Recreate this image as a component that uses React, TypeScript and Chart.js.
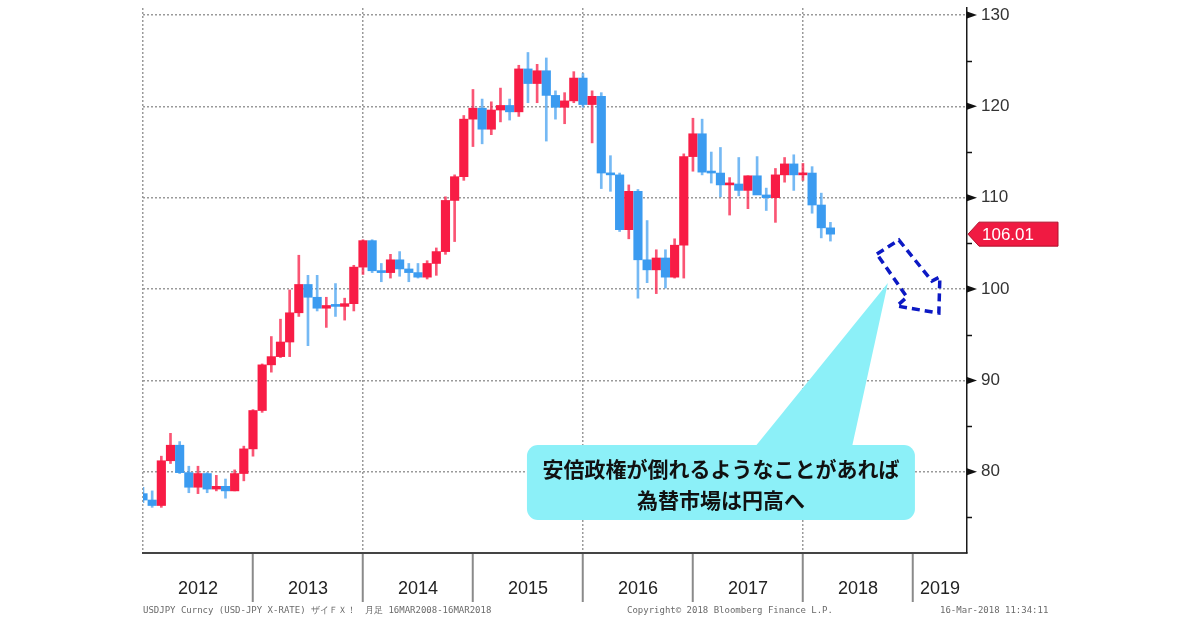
import React, { useEffect, useRef } from 'react';
import { Chart, registerables } from 'chart.js';

Chart.register(...registerables);

// ---- data (monthly USDJPY candles, month-end) ----
const monthLabels = [
  '2011-12',
  '2012-01', '2012-02', '2012-03', '2012-04', '2012-05', '2012-06', '2012-07', '2012-08', '2012-09', '2012-10', '2012-11', '2012-12',
  '2013-01', '2013-02', '2013-03', '2013-04', '2013-05', '2013-06', '2013-07', '2013-08', '2013-09', '2013-10', '2013-11', '2013-12',
  '2014-01', '2014-02', '2014-03', '2014-04', '2014-05', '2014-06', '2014-07', '2014-08', '2014-09', '2014-10', '2014-11', '2014-12',
  '2015-01', '2015-02', '2015-03', '2015-04', '2015-05', '2015-06', '2015-07', '2015-08', '2015-09', '2015-10', '2015-11', '2015-12',
  '2016-01', '2016-02', '2016-03', '2016-04', '2016-05', '2016-06', '2016-07', '2016-08', '2016-09', '2016-10', '2016-11', '2016-12',
  '2017-01', '2017-02', '2017-03', '2017-04', '2017-05', '2017-06', '2017-07', '2017-08', '2017-09', '2017-10', '2017-11', '2017-12',
  '2018-01', '2018-02', '2018-03',
];
const openV = [
  77.6,
  76.9, 76.3, 81.2, 82.9, 79.9, 78.3, 79.8, 78.1, 78.4, 77.9, 79.8, 82.5,
  86.7, 91.7, 92.6, 94.2, 97.4, 100.5, 99.1, 97.9, 98.2, 98.1, 98.4, 102.4,
  105.3, 102.0, 101.8, 103.2, 102.2, 101.8, 101.3, 102.8, 104.1, 109.7, 112.3, 118.6,
  119.8, 117.5, 119.6, 120.1, 119.4, 124.1, 122.5, 123.9, 121.2, 119.9, 120.6, 123.1,
  120.2, 121.1, 112.7, 112.5, 106.5, 110.7, 103.2, 102.1, 103.4, 101.3, 104.8, 114.5,
  117.0, 112.8, 112.7, 111.4, 111.5, 110.8, 112.4, 110.3, 110.0, 112.5, 113.7, 112.5,
  112.7, 109.2, 106.7,
];
const highV = [
  78.3,
  77.9, 81.7, 84.2, 83.3, 80.6, 80.6, 79.9, 79.6, 79.2, 80.2, 82.8, 86.8,
  91.8, 94.8, 96.7, 99.9, 103.7, 101.5, 101.5, 99.1, 100.6, 99.0, 102.6, 105.4,
  105.4, 102.8, 103.8, 104.1, 102.8, 102.8, 103.1, 104.5, 110.1, 112.5, 119.0, 121.85,
  120.8, 120.5, 122.0, 120.8, 124.5, 125.9, 124.6, 125.3, 121.7, 121.5, 123.8, 123.6,
  121.7, 121.5, 114.6, 112.7, 111.4, 110.9, 107.5, 104.3, 104.3, 105.5, 114.8, 118.7,
  118.6, 115.0, 115.5, 112.2, 114.4, 112.4, 114.5, 111.05, 113.2, 114.4, 114.7, 113.75,
  113.4, 110.5, 107.3,
];
const lowV = [
  76.6,
  76.1, 76.1, 80.9, 79.8, 77.7, 77.6, 77.7, 77.9, 77.1, 77.9, 79.0, 81.7,
  86.5, 90.9, 92.5, 92.6, 97.0, 93.8, 97.6, 95.8, 97.0, 96.6, 97.6, 101.6,
  101.8, 100.8, 101.2, 101.4, 100.8, 101.2, 101.1, 101.5, 103.8, 105.2, 111.9, 115.6,
  115.9, 116.9, 118.3, 118.5, 118.9, 120.4, 120.4, 116.2, 118.6, 118.1, 120.4, 119.9,
  116.0, 111.0, 110.7, 106.3, 105.5, 99.0, 100.7, 99.5, 100.1, 101.2, 101.2, 112.9,
  112.5, 111.6, 110.1, 108.1, 110.2, 108.8, 110.6, 108.6, 107.3, 111.7, 110.8, 111.9,
  108.3, 105.6, 105.25,
];
const closeV = [
  76.9,
  76.3, 81.2, 82.9, 79.9, 78.3, 79.8, 78.1, 78.4, 77.9, 79.8, 82.5, 86.7,
  91.7, 92.6, 94.2, 97.4, 100.5, 99.1, 97.9, 98.2, 98.1, 98.4, 102.4, 105.3,
  102.0, 101.8, 103.2, 102.2, 101.8, 101.3, 102.8, 104.1, 109.7, 112.3, 118.6, 119.8,
  117.5, 119.6, 120.1, 119.4, 124.1, 122.5, 123.9, 121.2, 119.9, 120.6, 123.1, 120.2,
  121.1, 112.7, 112.5, 106.5, 110.7, 103.2, 102.1, 103.4, 101.3, 104.8, 114.5, 117.0,
  112.8, 112.7, 111.4, 111.5, 110.8, 112.4, 110.3, 110.0, 112.5, 113.7, 112.5, 112.7,
  109.2, 106.7, 106.01,
];

const yearLabels = ['2012', '2013', '2014', '2015', '2016', '2017', '2018', '2019'];
const yearBoundaries = [0, 12, 24, 36, 48, 60, 72, 84];
const yearCenters = [6, 18, 30, 42, 54, 66, 78, 86.95];
const xGridValues = [0, 24, 48, 72];
const yTickValues = [80, 90, 100, 110, 120, 130];
const yMinorValues = [75, 85, 95, 105, 115, 125];

const calloutLines = ['安倍政権が倒れるようなことがあれば', '為替市場は円高へ'];
const footerLeft = 'USDJPY Curncy (USD-JPY X-RATE) ザイＦＸ！　月足 16MAR2008-16MAR2018';
const footerMid = 'Copyright© 2018 Bloomberg Finance L.P.';
const footerRight = '16-Mar-2018 11:34:11';

// ---- annotation anchors (data coordinates) ----
const calloutXRange = [41.89, 84.22];
const calloutYRange = [82.92, 74.71];
const pointerBaseX = [66.76, 77.35];
const pointerTip = [81.27, 100.66];
const arrowPath = [
  [80.07, 103.83], [82.47, 105.36], [86.07, 100.88], [86.94, 101.32],
  [86.83, 97.37], [82.25, 98.14], [83.35, 99.12],
];

// ---- styles ----
const UP = '#f81c45';
const DOWN = '#3b9bf0';
const UP_WICK = 'rgba(248,28,69,0.75)';
const DOWN_WICK = 'rgba(59,155,240,0.7)';
const GRID = '#9a9a9a';

const xs = monthLabels.map((m) => {
  const [yy, mm] = m.split('-').map(Number);
  return (yy - 2012) * 12 + mm;
});

const decorPlugin = {
  id: 'decor',
  afterDatasetsDraw(chart: any) {
    const { ctx } = chart;
    const x = chart.scales.x;
    const y = chart.scales.y;
    const px = (v: number) => x.getPixelForValue(v);
    const py = (v: number) => y.getPixelForValue(v);
    ctx.save();
    // callout
    const bx0 = px(calloutXRange[0]);
    const bx1 = px(calloutXRange[1]);
    const by0 = py(calloutYRange[0]);
    const by1 = py(calloutYRange[1]);
    ctx.fillStyle = '#8cf0f8';
    ctx.beginPath();
    ctx.roundRect(bx0, by0, bx1 - bx0, by1 - by0, 11);
    ctx.fill();
    ctx.beginPath();
    ctx.moveTo(px(pointerBaseX[0]), by0 + 2);
    ctx.lineTo(px(pointerTip[0]), py(pointerTip[1]));
    ctx.lineTo(px(pointerBaseX[1]), by0 + 2);
    ctx.closePath();
    ctx.fill();
    ctx.fillStyle = '#111';
    ctx.font = 'bold 21px "Noto Sans CJK JP"';
    ctx.textAlign = 'center';
    ctx.textBaseline = 'middle';
    const cx = (bx0 + bx1) / 2;
    ctx.fillText(calloutLines[0], cx, by0 + 24);
    ctx.fillText(calloutLines[1], cx, by0 + 55);
    // dashed arrow
    ctx.setLineDash([8, 5]);
    ctx.lineWidth = 3.5;
    ctx.strokeStyle = '#0c19c4';
    ctx.lineJoin = 'miter';
    ctx.beginPath();
    arrowPath.forEach((p, i) => {
      if (i === 0) ctx.moveTo(px(p[0]), py(p[1]));
      else ctx.lineTo(px(p[0]), py(p[1]));
    });
    ctx.closePath();
    ctx.stroke();
    ctx.restore();
  },
  afterDraw(chart: any) {
    const { ctx, chartArea } = chart;
    const y = chart.scales.y;
    const ax = chartArea.right;
    ctx.save();
    // major tick arrows
    ctx.fillStyle = '#111';
    yTickValues.forEach((v) => {
      const yy = y.getPixelForValue(v);
      ctx.beginPath();
      ctx.moveTo(ax, yy - 3.5);
      ctx.lineTo(ax + 10, yy);
      ctx.lineTo(ax, yy + 3.5);
      ctx.closePath();
      ctx.fill();
    });
    ctx.strokeStyle = '#111';
    ctx.lineWidth = 1.5;
    yMinorValues.forEach((v) => {
      const yy = Math.round(y.getPixelForValue(v)) + 0.5;
      ctx.beginPath();
      ctx.moveTo(ax, yy);
      ctx.lineTo(ax + 5, yy);
      ctx.stroke();
    });
    // last price tag
    const last = closeV[closeV.length - 1];
    const ty = y.getPixelForValue(last);
    ctx.beginPath();
    ctx.moveTo(ax + 1, ty);
    ctx.lineTo(ax + 12, ty - 12);
    ctx.lineTo(ax + 91, ty - 12);
    ctx.lineTo(ax + 91, ty + 12);
    ctx.lineTo(ax + 12, ty + 12);
    ctx.closePath();
    ctx.fillStyle = '#f01a42';
    ctx.fill();
    ctx.strokeStyle = '#b0102c';
    ctx.lineWidth = 1;
    ctx.stroke();
    ctx.fillStyle = '#fff';
    ctx.font = '17px "Liberation Sans"';
    ctx.textAlign = 'left';
    ctx.textBaseline = 'middle';
    ctx.fillText(last.toFixed(2), ax + 15, ty + 1);
    // footer
    ctx.fillStyle = '#6a6a6a';
    ctx.font = '9px "DejaVu Sans Mono"';
    ctx.textBaseline = 'middle';
    ctx.fillText(footerLeft, chartArea.left, 611, 405);
    ctx.fillText(footerMid, 627, 611, 218);
    ctx.fillText(footerRight, 940, 611, 114);
    ctx.restore();
  },
};

export default function App() {
  const ref = useRef<HTMLCanvasElement | null>(null);
  useEffect(() => {
    if (!ref.current) return;
    const bodyColors = openV.map((o, i) => (closeV[i] >= o ? UP : DOWN));
    const wickColors = openV.map((o, i) => (closeV[i] >= o ? UP_WICK : DOWN_WICK));
    const chart = new Chart(ref.current, {
      type: 'bar',
      data: {
        datasets: [
          {
            label: 'body',
            data: xs.map((x, i) => ({ x, y: [openV[i], closeV[i]] })) as any,
            backgroundColor: bodyColors,
            borderWidth: 0,
            barThickness: 8.5,
            minBarLength: 2,
            grouped: false,
            order: 0,
            clip: 0,
          } as any,
          {
            label: 'wick',
            data: xs.map((x, i) => ({ x, y: [lowV[i], highV[i]] })) as any,
            backgroundColor: wickColors,
            borderWidth: 0,
            barThickness: 2,
            grouped: false,
            order: 1,
            clip: 0,
          } as any,
        ],
      },
      options: {
        animation: false,
        responsive: false,
        maintainAspectRatio: false,
        layout: { padding: { left: 143, top: 8, right: 0, bottom: 0 } },
        plugins: { legend: { display: false }, tooltip: { enabled: false } },
        scales: {
          x: {
            type: 'linear',
            position: 'bottom',
            offset: false,
            min: 0,
            max: 89.9,
            afterBuildTicks: (s: any) => {
              s.ticks = [...yearBoundaries, ...yearCenters].sort((a, b) => a - b).map((v) => ({ value: v }));
            },
            afterFit: (s: any) => {
              s.height = 77;
              s.paddingLeft = 0;
              s.paddingRight = 0;
            },
            ticks: {
              autoSkip: false,
              maxRotation: 0,
              minRotation: 0,
              padding: -24,
              color: '#222',
              font: { family: '"Liberation Sans"', size: 18 },
              callback: (v: any) => {
                const i = yearCenters.indexOf(Number(v));
                return i >= 0 ? yearLabels[i] : '';
              },
            },
            grid: {
              offset: false,
              drawOnChartArea: true,
              color: (c: any) => (c.tick && xGridValues.includes(c.tick.value) ? GRID : 'transparent'),
              lineWidth: 1.5,
              tickLength: 49,
              tickWidth: 2,
              tickColor: (c: any) =>
                c.tick && yearBoundaries.includes(c.tick.value) && c.tick.value > 0 ? '#8a8a8a' : 'transparent',
            },
            border: { display: true, color: '#444', width: 2, dash: [2, 2] },
          },
          y: {
            type: 'linear',
            position: 'right',
            min: 71.1,
            max: 130.77,
            afterBuildTicks: (s: any) => {
              s.ticks = yTickValues.map((v) => ({ value: v }));
            },
            afterFit: (s: any) => {
              s.width = 233;
              s.paddingTop = 0;
              s.paddingBottom = 0;
            },
            ticks: {
              padding: 14,
              color: '#333',
              font: { family: '"Liberation Sans"', size: 17 },
            },
            grid: { drawTicks: false, color: GRID, lineWidth: 1.5 },
            border: { display: true, color: '#1a1a1a', width: 1.5, dash: [2, 2] },
          },
        },
      } as any,
      plugins: [decorPlugin],
    });
    return () => chart.destroy();
  }, []);
  return (
    <div style={{ position: 'fixed', left: 0, top: 0, width: 1200, height: 630, background: '#fff' }}>
      <canvas ref={ref} width={1200} height={630} style={{ display: 'block' }} />
    </div>
  );
}
